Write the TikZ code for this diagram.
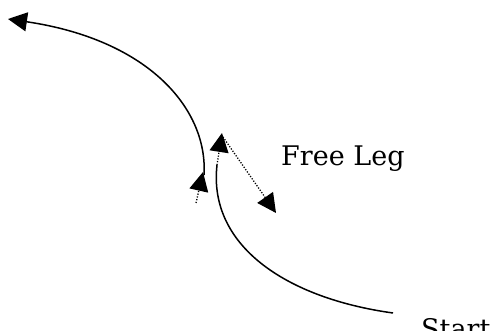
\documentclass[tikz,border=0pt]{standalone}
\usepackage{fontspec}
\setmainfont{DejaVu Serif}
\usetikzlibrary{arrows.meta}
\tikzset{
  track/.style={line width=1.5pt},
  legline/.style={line width=1.3pt, dash pattern=on 1.2pt off 1.6pt},
  bigtip/.style={-{Triangle[length=19pt,width=19pt]}},
  lbl/.style={anchor=base west, inner sep=0pt, font=\fontsize{27}{30}\selectfont}
}
\begin{document}
\begin{tikzpicture}[x=1pt,y=-1pt]
\useasboundingbox (0,0) rectangle (493,331);
\node[lbl] (freeleg) at (281,166) {Free Leg};
\node[lbl] (start) at (421,338) {Start};
\coordinate (startpt) at (393,313);
\coordinate (foota) at (217,165);
\coordinate (tipa) at (222,133);
\coordinate (legend) at (276,213);
\coordinate (tailb) at (196,203);
\coordinate (tipc) at (203,172);
\coordinate (footb) at (204,175);
\coordinate (tipb) at (8,19);
% first edge, from the start
\draw[track] (startpt) .. controls (285,298) and (208,245) .. (foota);
\draw[legline, bigtip] (foota) -- (tipa);
% free leg
\draw[legline, bigtip] (223,137) -- (legend);
% second edge
\draw[legline, bigtip] (tailb) -- (tipc);
\draw[track, bigtip] (footb) .. controls (208,110) and (150,40) .. (tipb);
\end{tikzpicture}
\end{document}
